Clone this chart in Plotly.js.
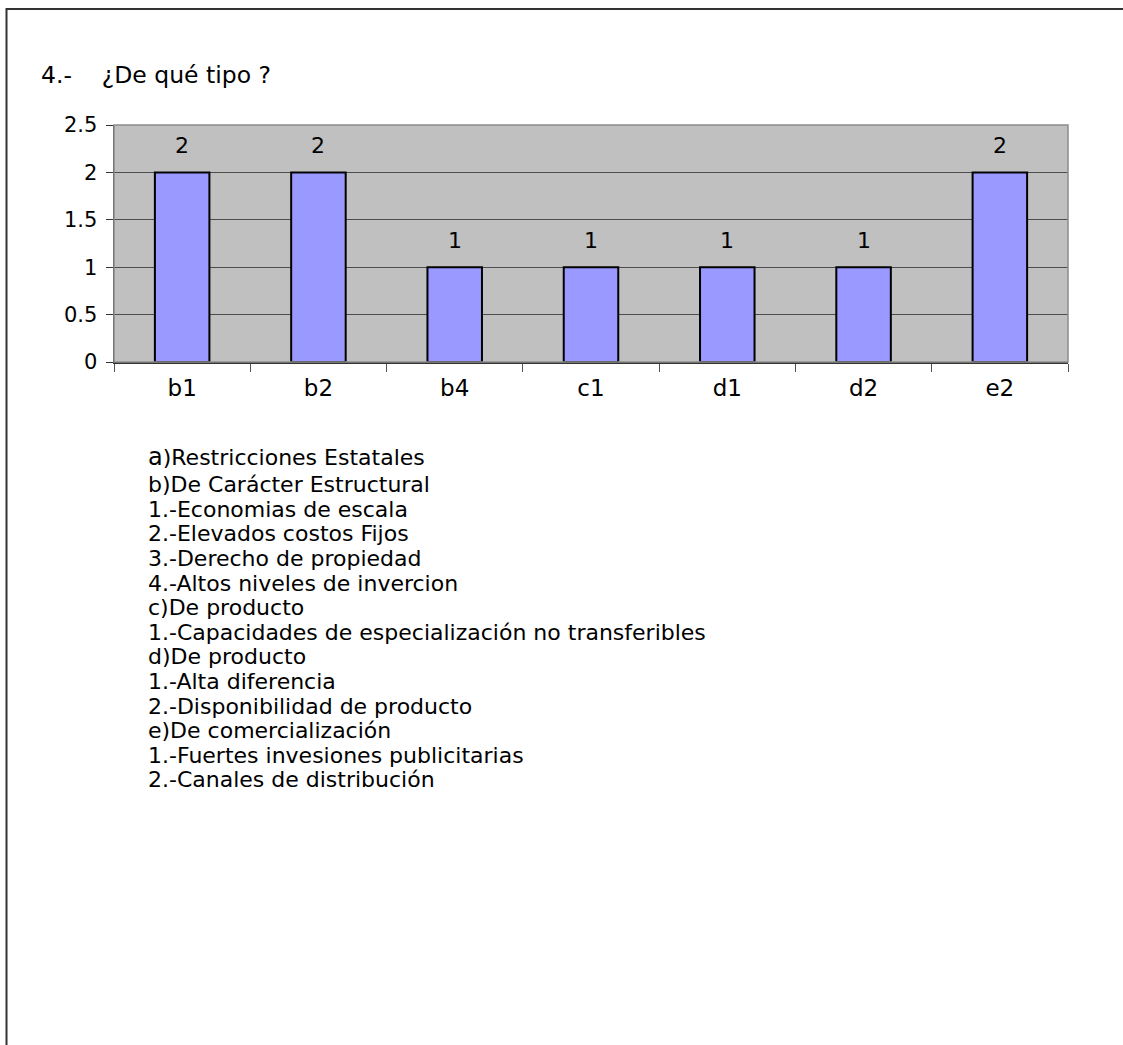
<!DOCTYPE html>
<html>
<head>
<meta charset="utf-8">
<script src="https://cdn.plot.ly/plotly-3.0.1.min.js"></script>
<style>html,body{margin:0;padding:0;background:#fff;}</style>
</head>
<body>
<div id="chart" style="width:1123px;height:1045px;"></div>
<script>
var categories = ["b1", "b2", "b4", "c1", "d1", "d2", "e2"];
var values = [2, 2, 1, 1, 1, 1, 2];
var yTicks = [0, 0.5, 1, 1.5, 2, 2.5];
var yTickLabels = ["0", "0.5", "1", "1.5", "2", "2.5"];
var titleText = "4.-\u00a0\u00a0\u00a0\u00a0¿De qué tipo ?";
var notes = [
  "<span style=\"font-size:24px\">a</span>)Restricciones Estatales",
  "b)De Carácter Estructural",
  "1.-Economias de escala",
  "2.-Elevados costos Fijos",
  "3.-Derecho de propiedad",
  "4.-Altos niveles de invercion",
  "c)De producto",
  "1.-Capacidades de especialización no transferibles",
  "d)De producto",
  "1.-Alta diferencia",
  "2.-Disponibilidad de producto",
  "e)De comercialización",
  "1.-Fuertes invesiones publicitarias",
  "2.-Canales de distribución"
];

var FONT = "DejaVu Sans, Liberation Sans, Arial, sans-serif";
var W = 1123, H = 1045;
var L = 114, R = 1068, T = 125, B = 362;
function px2x(p) { return (p - L) / (R - L); }
function py2y(p) { return (B - p) / (B - T); }

var trace = {
  type: "bar",
  x: categories,
  y: values,
  marker: { color: "#9999FF", line: { color: "#000000", width: 2 } },
  hoverinfo: "x+y"
};

var annotations = [];
for (var i = 0; i < categories.length; i++) {
  annotations.push({
    x: categories[i], y: values[i], xref: "x", yref: "y",
    text: String(values[i]), showarrow: false,
    yanchor: "bottom", yshift: 12,
    font: { family: FONT, size: 22, color: "#000" }
  });
}
for (var j = 0; j < notes.length; j++) {
  annotations.push({
    x: px2x(146), y: py2y(j === 0 ? 457 : 460 + j * 24.6), xref: "paper", yref: "paper",
    text: notes[j], showarrow: false, xanchor: "left", yanchor: "middle",
    align: "left",
    font: { family: FONT, size: 22, color: "#000" }
  });
}

var shapes = [
  { type: "rect", xref: "paper", yref: "paper", x0: 0, y0: 0, x1: 1, y1: 1,
    line: { color: "#8c8c8c", width: 1.5 }, layer: "above" },
  { type: "line", xref: "paper", yref: "paper", x0: px2x(6), y0: py2y(9), x1: px2x(1123), y1: py2y(9),
    line: { color: "#333333", width: 2 } },
  { type: "line", xref: "paper", yref: "paper", x0: px2x(6.5), y0: py2y(8), x1: px2x(6.5), y1: py2y(1045),
    line: { color: "#333333", width: 2 } }
];

var layout = {
  width: W, height: H,
  margin: { l: L, r: W - R, t: T, b: H - B, pad: 0 },
  paper_bgcolor: "#ffffff",
  plot_bgcolor: "#C0C0C0",
  showlegend: false,
  bargap: 0.6,
  font: { family: FONT, size: 21, color: "#000" },
  title: {
    text: titleText, xref: "container", yref: "container",
    x: 41 / W, xanchor: "left", y: 1 - 75 / H, yanchor: "middle",
    font: { family: FONT, size: 23.5, color: "#000" }
  },
  xaxis: {
    type: "category",
    tickson: "boundaries",
    ticks: "outside", ticklen: 8, tickcolor: "#555", tickwidth: 1,
    ticklabelstandoff: 5,
    showline: true, linecolor: "#333", linewidth: 1.5,
    showgrid: false,
    tickfont: { family: FONT, size: 23, color: "#000" },
    fixedrange: true
  },
  yaxis: {
    range: [0, 2.5],
    tickvals: yTicks, ticktext: yTickLabels,
    ticks: "outside", ticklen: 7, tickcolor: "#333", tickwidth: 1,
    ticklabelstandoff: 4,
    showline: true, linecolor: "#333", linewidth: 1.5,
    showgrid: true, gridcolor: "#4d4d4d", gridwidth: 1,
    zeroline: false,
    tickfont: { family: FONT, size: 21, color: "#000" },
    fixedrange: true
  },
  annotations: annotations,
  shapes: shapes
};

Plotly.newPlot("chart", [trace], layout, { displayModeBar: false, staticPlot: true });
</script>
</body>
</html>
